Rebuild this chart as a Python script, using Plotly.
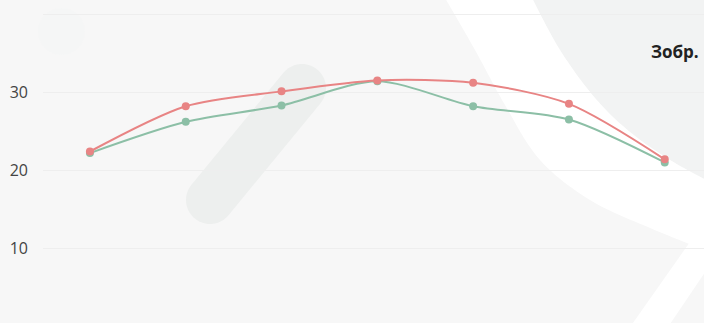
import numpy as np
import plotly.graph_objects as go

# Series values
categories = ["1", "2", "3", "4", "5", "6", "7"]
red_values = [22.4, 28.2, 30.1, 31.5, 31.2, 28.5, 21.4]
green_values = [22.2, 26.2, 28.3, 31.4, 28.2, 26.5, 21.0]
tick_values = [10, 20, 30, 40]
tick_labels = ["10", "20", "30", ""]

W, H = 704, 323
ML = 43  # left margin in px


def px(x, y):
    """Convert page pixels to paper coordinates of the plot area."""
    return (x - ML) / (W - ML), 1 - y / H


def path_from(points, close=True):
    parts = []
    for i, (x, y) in enumerate(points):
        u, v = px(x, y)
        parts.append(("M" if i == 0 else "L") + f"{u:.5f},{v:.5f}")
    return " ".join(parts) + (" Z" if close else "")


def pill(p0, p1, r, n=24):
    (x0, y0), (x1, y1) = p0, p1
    ang = np.arctan2(y1 - y0, x1 - x0)
    pts = []
    for t in np.linspace(ang + np.pi / 2, ang + 3 * np.pi / 2, n):
        pts.append((x0 + r * np.cos(t), y0 + r * np.sin(t)))
    for t in np.linspace(ang - np.pi / 2, ang + np.pi / 2, n):
        pts.append((x1 + r * np.cos(t), y1 + r * np.sin(t)))
    return pts


def smooth(points, n=12):
    # Catmull-Rom through the given points
    p = np.array(points, dtype=float)
    p = np.vstack([p[0], p, p[-1]])
    out = []
    for i in range(1, len(p) - 2):
        p0, p1, p2, p3 = p[i - 1], p[i], p[i + 1], p[i + 2]
        for t in np.linspace(0, 1, n, endpoint=False):
            t2, t3 = t * t, t * t * t
            out.append(0.5 * ((2 * p1) + (-p0 + p2) * t
                              + (2 * p0 - 5 * p1 + 4 * p2 - p3) * t2
                              + (-p0 + 3 * p1 - 3 * p2 + p3) * t3))
    out.append(p[-2])
    return [tuple(q) for q in out]


left_edge = smooth([(445, -2), (475, 50), (505, 105), (540, 160),
                    (590, 200), (650, 228), (710, 252)])
right_edge = smooth([(710, 182), (670, 160), (630, 132), (595, 98),
                     (560, 50), (532, -2)])

shapes = []
# soft grey area in the upper right corner
shapes.append(dict(type="path", xref="paper", yref="paper", layer="below",
                   path=path_from(right_edge + [(710, -2)]),
                   fillcolor="#f2f3f3", line=dict(width=0)))
# white curved band sweeping down to the right
shapes.append(dict(type="path", xref="paper", yref="paper", layer="below",
                   path=path_from(left_edge + right_edge),
                   fillcolor="#ffffff", line=dict(width=0)))
# white diagonal stripe in the lower right corner
shapes.append(dict(type="path", xref="paper", yref="paper", layer="below",
                   path=path_from([(704, 222), (720, 222), (720, 250),
                                   (666, 330), (628, 330)]),
                   fillcolor="#ffffff", line=dict(width=0)))
# grey rounded stroke
shapes.append(dict(type="path", xref="paper", yref="paper", layer="below",
                   path=path_from(pill((210, 200), (302, 88), 24)),
                   fillcolor="#edefee", line=dict(width=0)))
# faint circle top-left
shapes.append(dict(type="circle", xref="paper", yref="paper", layer="below",
                   x0=px(38, 0)[0], x1=px(85, 0)[0],
                   y0=px(0, 55)[1], y1=px(0, 8)[1],
                   fillcolor="#f5f6f6", line=dict(width=0)))

fig = go.Figure()
fig.add_trace(go.Scatter(
    x=categories, y=green_values, mode="lines+markers",
    line=dict(color="#8cbfa6", width=2, shape="spline", smoothing=0.8),
    marker=dict(color="#8cbfa6", size=8), showlegend=False))
fig.add_trace(go.Scatter(
    x=categories, y=red_values, mode="lines+markers",
    line=dict(color="#e88484", width=2, shape="spline", smoothing=0.8),
    marker=dict(color="#e88484", size=8), showlegend=False))

fig.update_layout(
    width=W, height=H,
    margin=dict(l=ML, r=0, t=0, b=0),
    paper_bgcolor="#f7f7f7",
    plot_bgcolor="rgba(0,0,0,0)",
    font=dict(family="Open Sans", color="#444444", size=16),
    shapes=shapes,
    xaxis=dict(range=[-0.49, 6.41], showgrid=False, showticklabels=False,
               zeroline=False, showline=False),
    yaxis=dict(range=[0.44, 41.8], tickvals=tick_values, ticktext=tick_labels,
               showgrid=True, gridcolor="#eeeeee", gridwidth=1,
               zeroline=False, showline=False, ticks="", ticklabelstandoff=14),
    annotations=[dict(text="<b>Зобр.</b>", xref="paper", yref="paper",
                      x=px(701, 0)[0], y=px(0, 52)[1], xanchor="right",
                      yanchor="middle", showarrow=False,
                      font=dict(family="Open Sans", size=17, color="#222222"))],
)

fig.write_html("out.html")
